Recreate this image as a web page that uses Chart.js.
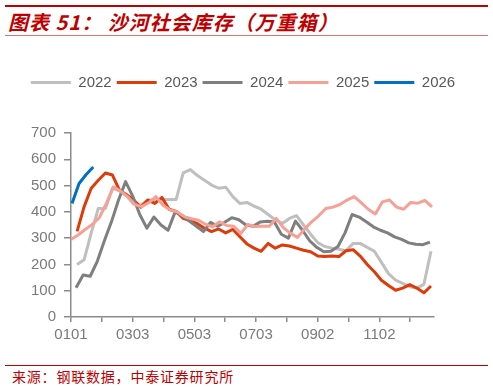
<!DOCTYPE html>
<html><head><meta charset="utf-8">
<script src="https://cdn.jsdelivr.net/npm/chart.js@4"></script>
<style>
html,body{margin:0;padding:0;background:#fff;}
body{width:493px;height:388px;position:relative;overflow:hidden;font-family:"Noto Sans CJK SC",sans-serif;}
#topline{position:absolute;left:5px;top:5px;width:483px;height:2px;background:#C00000;}
#title{position:absolute;left:8px;top:9px;font-size:20px;line-height:26px;font-weight:bold;font-style:italic;color:#C00000;white-space:nowrap;letter-spacing:1px;}
#titleline{position:absolute;left:5px;top:35px;width:483px;height:1px;background:#E07070;}
#chartbox{position:absolute;left:0;top:40px;width:493px;height:320px;}
#footline{position:absolute;left:5px;top:365px;width:483px;height:1px;background:#C00000;}
#source{position:absolute;left:12px;top:367px;font-size:14px;line-height:18px;color:#C00000;white-space:nowrap;letter-spacing:0.8px;}
</style></head>
<body>
<div id="topline"></div>
<div id="title">图表 51： 沙河社会库存（万重箱）</div>
<div id="titleline"></div>
<div id="chartbox"><canvas id="c" width="493" height="320"></canvas></div>
<div id="footline"></div>
<div id="source">来源：钢联数据，中泰证券研究所</div>
<script>
// x positions are days since Jan 1
const tickDays = [0,30.5,61,91.5,122,152.5,183,213.5,244,274.5,305,335.5];
const tickLabels = ['0101','','0303','','0503','','0703','','0902','','1102',''];
const seriesNames = ['2022','2023','2024','2025','2026'];
const startDays = [6,6,5,0,1];
const v2022 = [200,218,320,413,413,490,480,460,430,425,445,445,446,447,447,548,561,538,520,502,490,494,458,432,436,422,410,390,370,356,375,386,350,315,283,268,262,258,252,280,280,265,250,208,165,140,128,115,110,124,250];
const v2023 = [326,420,490,520,548,540,482,465,445,418,445,432,455,410,402,375,366,355,338,325,335,320,333,305,278,262,250,280,262,274,270,262,254,248,232,230,232,230,252,256,232,200,172,140,120,102,110,123,110,92,118];
const v2024 = [111,160,155,212,290,362,445,515,460,390,338,380,350,330,400,385,365,345,325,360,345,360,378,370,350,345,361,364,362,315,300,365,330,290,265,248,250,268,320,390,380,362,343,330,320,305,295,282,277,275,285];
const v2025 = [295,312,333,352,378,432,495,479,458,428,420,435,458,425,407,400,382,374,368,353,343,362,348,345,318,352,344,345,345,375,340,318,303,335,362,385,413,418,428,445,458,435,410,392,438,445,418,410,436,433,444,419];
const v2026 = [432,508,542,571];
const colors = ['#BFBFBF','#DD3B0A','#7F7F7F','#F5A195','#0070C0'];
const allValues = [v2022,v2023,v2024,v2025,v2026];

function toPoints(start, vals){ return vals.map((v,i)=>({x:start+7*i, y:v})); }

const datasets = seriesNames.map((n,i)=>({
  label:n,
  data:toPoints(startDays[i], allValues[i]),
  borderColor:colors[i],
  backgroundColor:colors[i],
  borderWidth:3,
  pointRadius:0,
  tension:0,
  borderJoinStyle:'round',
  order:5-i
}));

Chart.defaults.font.family = '"Liberation Sans", Arial, sans-serif';
const axisColor = '#8C8C8C';
new Chart(document.getElementById('c'), {
  type:'line',
  data:{datasets},
  options:{
    responsive:false,
    animation:false,
    layout:{padding:{left:0,right:7,top:30,bottom:0}},
    plugins:{
      tooltip:{enabled:false},
      legend:{
        position:'top',
        labels:{
          usePointStyle:true, pointStyle:'line', pointStyleWidth:40,
          padding:5, color:'#595959', font:{size:15},
          sort:(a,b)=>a.datasetIndex-b.datasetIndex
        }
      },
      subtitle:{display:true,text:'',position:'top',weight:500,padding:0,font:{size:10,lineHeight:'33px'}}
    },
    scales:{
      x:{
        type:'linear', min:0, max:359,
        afterBuildTicks:s=>{ s.ticks = tickDays.map(v=>({value:v})); },
        afterFit:s=>{ s.height = 43; },
        ticks:{autoSkip:false,maxRotation:0,padding:4,color:'#7A7A7A',font:{size:15},
          callback:(v,i)=>tickLabels[i]},
        grid:{drawOnChartArea:false,drawTicks:true,tickLength:5,color:axisColor,lineWidth:1.5},
        border:{display:true,color:axisColor,width:1.5}
      },
      y:{
        type:'linear', min:0, max:700,
        afterFit:s=>{ s.width = 71; },
        ticks:{stepSize:100,padding:8,color:'#7A7A7A',font:{size:15}},
        grid:{drawOnChartArea:false,drawTicks:true,tickLength:7,color:axisColor,lineWidth:1.5},
        border:{display:true,color:axisColor,width:1.5}
      },
      yR:{
        type:'linear', position:'right', display:true,
        afterFit:s=>{ s.width = 52; },
        ticks:{display:false}, grid:{display:false}, border:{display:false}
      }
    }
  }
});
</script>
</body></html>
